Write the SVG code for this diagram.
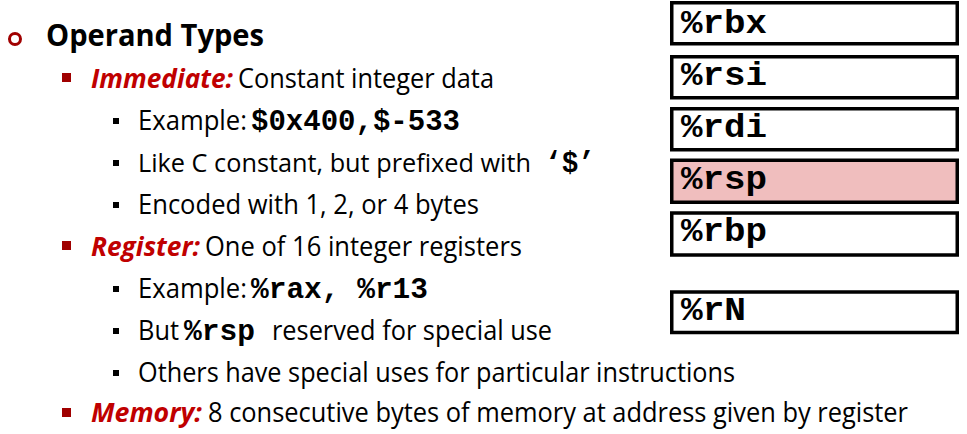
<svg xmlns="http://www.w3.org/2000/svg" width="967" height="434" viewBox="0 0 967 434">
<style>
.t{font-family:"Open Sans","Noto Sans","Liberation Sans",sans-serif;font-size:27px;fill:#000}
.h{font-weight:bold;font-size:31px}
.r{fill:#C00000;font-weight:bold;font-style:italic}
.m{font-family:"Liberation Mono","Courier New",monospace;font-weight:bold;font-size:29px;fill:#000}
.reg{fill:#fff;stroke:#000;stroke-width:3.5}
.rl{font-family:"Liberation Mono","Courier New",monospace;font-weight:bold;font-size:34px;fill:#000}
.b2{fill:#A00000}
.b3{fill:#000}
</style>
<rect width="967" height="434" fill="#fff"/>
<g id="text">
<circle cx="15" cy="39" r="5.5" fill="none" stroke="#A00000" stroke-width="3"/>
<text class="t h" x="46" y="46" textLength="218" lengthAdjust="spacingAndGlyphs">Operand Types</text>

<rect class="b2" x="62" y="73" width="9" height="9"/>
<text class="t r" x="91" y="88" textLength="142" lengthAdjust="spacingAndGlyphs">Immediate:</text>
<text class="t" x="238" y="88" textLength="256" lengthAdjust="spacingAndGlyphs">Constant integer data</text>

<rect class="b3" x="113" y="118" width="6" height="6"/>
<text class="t" x="138" y="130" textLength="109" lengthAdjust="spacingAndGlyphs" style="font-size:26.5px">Example:</text>
<text class="m" x="251" y="130" textLength="209" lengthAdjust="spacingAndGlyphs">$0x400,$-533</text>

<rect class="b3" x="113" y="160" width="6" height="6"/>
<text class="t" x="138" y="172" textLength="393" lengthAdjust="spacingAndGlyphs" style="font-size:25.3px">Like C constant, but prefixed with</text>
<text class="m" x="545" y="172" textLength="50" lengthAdjust="spacingAndGlyphs">‘$’</text>

<rect class="b3" x="113" y="202" width="6" height="6"/>
<text class="t" x="138" y="214" textLength="341" lengthAdjust="spacingAndGlyphs">Encoded with 1, 2, or 4 bytes</text>

<rect class="b2" x="62" y="241" width="9" height="9"/>
<text class="t r" x="91" y="256" textLength="109" lengthAdjust="spacingAndGlyphs">Register:</text>
<text class="t" x="205" y="256" textLength="317" lengthAdjust="spacingAndGlyphs">One of 16 integer registers</text>

<rect class="b3" x="113" y="286" width="6" height="6"/>
<text class="t" x="138" y="298" textLength="109" lengthAdjust="spacingAndGlyphs" style="font-size:26.5px">Example:</text>
<text class="m" x="251" y="298" textLength="177" lengthAdjust="spacingAndGlyphs">%rax, %r13</text>

<rect class="b3" x="113" y="328" width="6" height="6"/>
<text class="t" x="138" y="340" textLength="41" lengthAdjust="spacingAndGlyphs">But</text>
<text class="m" x="184" y="340" textLength="71" lengthAdjust="spacingAndGlyphs">%rsp</text>
<text class="t" x="272" y="340" textLength="280" lengthAdjust="spacingAndGlyphs">reserved for special use</text>

<rect class="b3" x="113" y="370" width="6" height="6"/>
<text class="t" x="138" y="382" textLength="597" lengthAdjust="spacingAndGlyphs">Others have special uses for particular instructions</text>

<rect class="b2" x="62" y="408" width="9" height="9"/>
<text class="t r" x="91" y="422" textLength="111" lengthAdjust="spacingAndGlyphs">Memory:</text>
<text class="t" x="208" y="422" textLength="700" lengthAdjust="spacingAndGlyphs">8 consecutive bytes of memory at address given by register</text>
</g>
<g id="connectors"></g>
<g id="reg-rbx"><rect class="reg" x="671.75" y="2.75" width="285.5" height="41"/><text class="rl" x="681" y="33" textLength="86" lengthAdjust="spacingAndGlyphs">%rbx</text></g>
<g id="reg-rsi"><rect class="reg" x="671.75" y="56.75" width="285.5" height="41"/><text class="rl" x="681" y="85" textLength="86" lengthAdjust="spacingAndGlyphs">%rsi</text></g>
<g id="reg-rdi"><rect class="reg" x="671.75" y="108.75" width="285.5" height="41"/><text class="rl" x="681" y="137" textLength="86" lengthAdjust="spacingAndGlyphs">%rdi</text></g>
<g id="reg-rsp"><rect class="reg" x="671.75" y="160.25" width="285.5" height="42" style="fill:#F0BEBE"/><text class="rl" x="681" y="189" textLength="86" lengthAdjust="spacingAndGlyphs">%rsp</text></g>
<g id="reg-rbp"><rect class="reg" x="671.75" y="213" width="285.5" height="42"/><text class="rl" x="681" y="241" textLength="86" lengthAdjust="spacingAndGlyphs">%rbp</text></g>
<g id="reg-rN"><rect class="reg" x="671.75" y="292" width="285.5" height="40.5"/><text class="rl" x="681" y="320" textLength="65" lengthAdjust="spacingAndGlyphs">%rN</text></g>
</svg>
